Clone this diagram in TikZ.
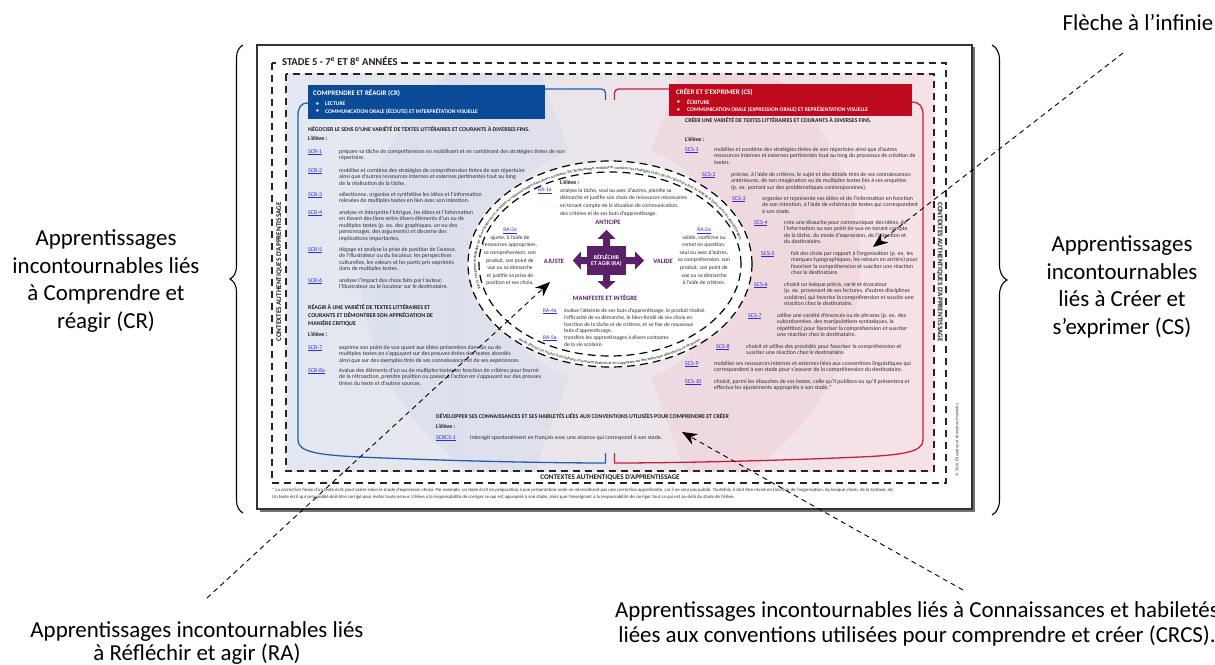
\documentclass[tikz,border=0pt]{standalone}
\usepackage{fontspec}
\setmainfont{Carlito}
\usetikzlibrary{calc,arrows.meta,decorations.pathreplacing,decorations.text,shapes.geometric}
\definecolor{txt}{HTML}{303030}
\definecolor{hd}{HTML}{1E1E1E}
\definecolor{lnk}{HTML}{2A2AE6}
\definecolor{crblue}{HTML}{0B4A96}
\definecolor{csred}{HTML}{BE0A1C}
\definecolor{frblue}{HTML}{2460AC}
\definecolor{frred}{HTML}{C8203A}
\definecolor{rapurple}{HTML}{5A2169}
\definecolor{bgblue}{HTML}{E2E8F1}
\definecolor{bgpink}{HTML}{F6E2E6}
\definecolor{ringblue}{HTML}{C9D6E8}
\definecolor{ringpink}{HTML}{EDC4CC}
\newcommand{\lnkc}[1]{\underline{#1}}
\begin{document}
\begin{tikzpicture}[x=1bp,y=1bp,
  body/.style={font=\fontsize{5.9}{6.5}\selectfont, text=txt, align=left, anchor=north west, inner sep=0pt},
  code/.style={font=\fontsize{5.9}{6.5}\selectfont, text=lnk, anchor=north west, inner sep=0pt},
  eleve/.style={font=\bfseries\fontsize{5.9}{6.5}\selectfont, text=hd, anchor=north west, inner sep=0pt},
  head/.style={font=\bfseries\fontsize{5.9}{8}\selectfont, text=hd, align=left, anchor=north west, inner sep=0pt},
  ell/.style={font=\fontsize{5.6}{7.6}\selectfont, text=txt, inner sep=0pt},
  ellcode/.style={font=\fontsize{5.6}{7.6}\selectfont, text=lnk, inner sep=0pt},
  purp/.style={font=\bfseries\fontsize{6.6}{8}\selectfont, text=rapurple, inner sep=0pt},
  boxt/.style={font=\bfseries\fontsize{7}{8}\selectfont, text=white, inner sep=0pt},
  boxb/.style={font=\bfseries\fontsize{5.6}{7}\selectfont, text=white, inner sep=0pt},
  vtxt/.style={font=\bfseries\fontsize{7.2}{8}\selectfont, text=hd, inner sep=0pt},
  foot/.style={font=\fontsize{4.85}{7}\selectfont, text=txt, align=left, anchor=north west, inner sep=0pt},
  big/.style={font=\fontsize{23}{27.5}\selectfont, align=center, text=black, inner sep=0pt},
  dfr/.style={draw=black!85, line width=1.1bp, dash pattern=on 7bp off 5bp},
  ringd/.style={draw=black, line width=1.2bp, dash pattern=on 8bp off 5bp},
  frb/.style={draw=frblue, line width=1.3bp},
  frr/.style={draw=frred, line width=1.3bp},
  leader/.style={draw=black, line width=0.9bp, dash pattern=on 5bp off 4bp, -{Stealth[length=15bp,width=12bp]}},
  bracestyle/.style={draw=black, line width=1.1bp, decorate},
]
\useasboundingbox (0,0) rectangle (1215,-665);

% page
\fill[black!55] (259.5,-47.5) rectangle (974.5,-511.5);
\draw[draw=black!80, line width=1.4bp, fill=white] (257,-45) rectangle (972,-509);

% inner background
\shade[left color=bgblue, right color=bgpink] (286,-74) rectangle (934,-471);
\coordinate (ctr) at (610,-264);
\begin{scope}
  \clip (286,-74) rectangle (934,-471);
  \fill[ringblue, opacity=0.32] ($(ctr)+(110:250)$) arc[start angle=110,end angle=250,radius=250] -- ($(ctr)+(250:120)$) arc[start angle=250,end angle=110,radius=120] -- cycle;
  \fill[ringpink, opacity=0.32] ($(ctr)+(-70:250)$) arc[start angle=-70,end angle=70,radius=250] -- ($(ctr)+(70:120)$) arc[start angle=70,end angle=-70,radius=120] -- cycle;
\end{scope}

% dashed frames
\draw[dfr] (286,-74) rectangle (934,-471);
\draw[dfr] (272,-63) rectangle (946,-483);
\node[anchor=west, fill=white, inner xsep=3bp, inner ysep=1.5bp, font=\bfseries\fontsize{10.6}{12}\selectfont, text=hd] (stade) at (279,-61.5) {STADE 5 - 7\textsuperscript{e} ET 8\textsuperscript{e} ANNÉES};
\node[vtxt, rotate=90] (ctxl) at (279,-272) {CONTEXTES AUTHENTIQUES D’APPRENTISSAGE};
\node[vtxt, rotate=-90] (ctxr) at (940,-272) {CONTEXTES AUTHENTIQUES D’APPRENTISSAGE};
\node[vtxt] (ctxb) at (610,-477.5) {CONTEXTES AUTHENTIQUES D’APPRENTISSAGE};
\node[font=\fontsize{4.2}{5}\selectfont, text=txt, rotate=90, inner sep=0] (copy) at (957,-440) {© 2016, Éducation et Formation Manitoba};

% blue / red frames
\draw[frb, rounded corners=4bp] (545,-89) -- (605.5,-89) -- (605.5,-100);
\draw[frb] (308,-103) .. controls (301,-103) and (298,-107) .. (298,-116) -- (298,-440) .. controls (298,-452) and (318,-455) .. (360,-457) .. controls (450,-461) and (550,-463) .. (605.5,-463) -- (605.5,-453);
\draw[frr, rounded corners=4bp] (669,-89) -- (614.5,-89) -- (614.5,-100);
\draw[frr] (912,-102) .. controls (919,-102) and (923,-106) .. (923,-115) -- (923,-440) .. controls (923,-452) and (903,-455) .. (860,-457) .. controls (770,-461) and (670,-463) .. (614.5,-463) -- (614.5,-453);

% header boxes
\node[fill=crblue, anchor=north west, minimum width=237bp, minimum height=34bp, inner sep=0] (crbox) at (308,-85) {};
\node[boxt, anchor=west] (crt) at (313,-93.5) {COMPRENDRE ET RÉAGIR (CR)};
\node[boxb, anchor=west] (crb1) at (316,-104) {\textbullet};
\node[boxb, anchor=west] (crl1) at (325,-104) {LECTURE};
\node[boxb, anchor=west] (crb2) at (316,-111.5) {\textbullet};
\node[boxb, anchor=west] (crl2) at (325,-111.5) {COMMUNICATION ORALE (ÉCOUTE) ET INTERPRÉTATION VISUELLE};

\node[fill=csred, anchor=north west, minimum width=243bp, minimum height=32bp, inner sep=0] (csbox) at (669,-84) {};
\node[boxt, anchor=west] (cst) at (676,-92) {CRÉER ET S’EXPRIMER (CS)};
\node[boxb, anchor=west] (csb1) at (677,-102.5) {\textbullet};
\node[boxb, anchor=west] (csl1) at (687,-102.5) {ÉCRITURE};
\node[boxb, anchor=west] (csb2) at (677,-110) {\textbullet};
\node[boxb, anchor=west] (csl2) at (687,-110) {COMMUNICATION ORALE (EXPRESSION ORALE) ET REPRÉSENTATION VISUELLE};

% CR column
\node[head] (h1) at (308,-126.2) {NÉGOCIER LE SENS D’UNE VARIÉTÉ DE TEXTES LITTÉRAIRES ET COURANTS À DIVERSES FINS.};
\node[eleve] (e1) at (308,-136.2) {L’élève :};
\node[code] (c1) at (308,-149) {\lnkc{SCR-1}};
\node[body] (t1) at (339,-149) {prépare sa tâche de compréhension en mobilisant et en combinant des stratégies tirées de son\\répertoire.};
\node[code] (c2) at (308,-168) {\lnkc{SCR-2}};
\node[body] (t2) at (339,-168) {mobilise et combine des stratégies de compréhension tirées de son répertoire\\ainsi que d’autres ressources internes et externes pertinentes tout au long\\de la réalisation de la tâche.};
\node[code] (c3) at (308,-192) {\lnkc{SCR-3}};
\node[body] (t3) at (339,-192) {sélectionne, organise et synthétise les idées et l’information\\relevées de multiples textes en lien avec son intention.};
\node[code] (c4) at (308,-210) {\lnkc{SCR-4}};
\node[body] (t4) at (339,-210) {analyse et interprète l’intrigue, les idées et l’information\\en tissant des liens entre divers éléments d’un ou de\\multiples textes (p. ex. des graphiques, un ou des\\personnages, des arguments) et discerne des\\implications importantes.};
\node[code] (c5) at (308,-247) {\lnkc{SCR-5}};
\node[body] (t5) at (339,-247) {dégage et analyse la prise de position de l’auteur,\\de l’illustrateur ou du locuteur, les perspectives\\culturelles, les valeurs et les partis pris exprimés\\dans de multiples textes.};
\node[code] (c6) at (308,-278) {\lnkc{SCR-6}};
\node[body] (t6) at (339,-278) {analyse l’impact des choix faits par l’auteur,\\l’illustrateur ou le locuteur sur le destinataire.};
\node[head] (h2) at (308,-304.2) {RÉAGIR À UNE VARIÉTÉ DE TEXTES LITTÉRAIRES ET\\COURANTS ET DÉMONTRER SON APPRÉCIATION DE\\MANIÈRE CRITIQUE};
\node[eleve] (e2) at (308,-332.2) {L’élève :};
\node[code] (c7) at (308,-345) {\lnkc{SCR-7}};
\node[body] (t7) at (339,-345) {exprime son point de vue quant aux idées présentées dans un ou de\\multiples textes en s’appuyant sur des preuves tirées des textes abordés\\ainsi que sur des exemples tirés de ses connaissances et de ses expériences.};
\node[code] (c8) at (308,-368) {\lnkc{SCR-8a}};
\node[body] (t8) at (339,-368) {évalue des éléments d’un ou de multiples textes en fonction de critères pour fournir\\de la rétroaction, prendre position ou passer à l’action en s’appuyant sur des preuves\\tirées du texte et d’autres sources.};

% CS column
\node[head] (h3) at (685,-117.5) {CRÉER UNE VARIÉTÉ DE TEXTES LITTÉRAIRES ET COURANTS À DIVERSES FINS.};
\node[eleve] (e3) at (685,-137.2) {L’élève :};
\node[code] (s1) at (685,-147) {\lnkc{SCS-1}};
\node[body] (u1) at (714,-147) {mobilise et combine des stratégies tirées de son répertoire ainsi que d’autres\\ressources internes et externes pertinentes tout au long du processus de création de\\textes.};
\node[code] (s2) at (702,-172) {\lnkc{SCS-2}};
\node[body] (u2) at (731,-172) {précise, à l’aide de critères, le sujet et des détails tirés de ses connaissances\\antérieures, de son imagination ou de multiples textes liés à ses enquêtes\\(p. ex. portant sur des problématiques contemporaines).};
\node[code] (s3) at (732,-196) {\lnkc{SCS-3}};
\node[body] (u3) at (762,-196) {organise et représente ses idées et de l’information en fonction\\de son intention, à l’aide de schémas de textes qui correspondent\\à son stade.};
\node[code] (s4) at (754,-220) {\lnkc{SCS-4}};
\node[body] (u4) at (784,-220) {crée une ébauche pour communiquer des idées, de\\l’information ou son point de vue en tenant compte\\de la tâche, du mode d’expression, de l’intention et\\du destinataire.};
\node[code] (s5) at (761,-251) {\lnkc{SCS-5}};
\node[body] (u5) at (791,-251) {fait des choix par rapport à l’organisation (p. ex. les\\marques typographiques, les retours en arrière) pour\\favoriser la compréhension et susciter une réaction\\chez le destinataire.};
\node[code] (s6) at (754,-282) {\lnkc{SCS-6}};
\node[body] (u6) at (784,-282) {choisit un lexique précis, varié et évocateur\\(p. ex. provenant de ses lectures, d’autres disciplines\\scolaires) qui favorise la compréhension et suscite une\\réaction chez le destinataire.};
\node[code] (s7) at (748,-313) {\lnkc{SCS-7}};
\node[body] (u7) at (777,-313) {utilise une variété d’énoncés ou de phrases (p. ex. des\\subordonnées, des manipulations syntaxiques, la\\répétition) pour favoriser la compréhension et susciter\\une réaction chez le destinataire.};
\node[code] (s8) at (716,-344) {\lnkc{SCS-8}};
\node[body] (u8) at (746,-344) {choisit et utilise des procédés pour favoriser la compréhension et\\susciter une réaction chez le destinataire.};
\node[code] (s9) at (685,-361) {\lnkc{SCS-9}};
\node[body] (u9) at (714,-361) {mobilise ses ressources internes et externes liées aux conventions linguistiques qui\\correspondent à son stade pour s’assurer de la compréhension du destinataire.};
\node[code] (s10) at (685,-379) {\lnkc{SCS-10}};
\node[body] (u10) at (714,-379) {choisit, parmi les ébauches de ses textes, celle qu’il publiera ou qu’il présentera et\\effectue les ajustements appropriés à son stade.*};

% CRCS
\node[head] (h4) at (436,-413.2) {DÉVELOPPER SES CONNAISSANCES ET SES HABILETÉS LIÉES AUX CONVENTIONS UTILISÉES POUR COMPRENDRE ET CRÉER};
\node[eleve] (e4) at (436,-424.2) {L’élève :};
\node[code] (k1) at (436,-435) {\lnkc{SCRCS-1}};
\node[body] (v1) at (470,-435) {interagit spontanément en français avec une aisance qui correspond à son stade.};

% footnote
\node[foot] (fn) at (272,-487.5) {* La correction finale d’un texte écrit peut varier selon le mode d’expression choisi. Par exemple, un texte écrit en préparation à une présentation orale ne nécessiterait pas une correction approfondie, car il ne sera pas publié. Toutefois, il doit être révisé en fonction de l’organisation, du lexique choisi, de la syntaxe, etc.\\Un texte écrit qui sera publié doit être corrigé pour éviter toute erreur. L’élève a la responsabilité de corriger ce qui est approprié à son stade, alors que l’enseignant a la responsabilité de corriger tout ce qui est au-delà du stade de l’élève.};

% central ellipse
\node[ellipse, fill=white, minimum width=284bp, minimum height=206bp, inner sep=0] (ring) at (ctr) {};
\draw[ringd] (ctr) ellipse [x radius=142, y radius=103];
\draw[ringd] (ctr) ellipse [x radius=131, y radius=92];
{\fontsize{3.9}{4}\selectfont\color{txt}
\path[decorate, decoration={text along path, text align=left, text={RA-3c s’exprime et dialogue sur divers textes pour consolider ses apprentissages dans divers contextes. RA-3b développe, mobilise et combine ses stratégies tirées de son répertoire tout au long de la tâche et de ses apprentissages.}}] ($(ctr)+(195:134 and 95)$) arc[start angle=195, end angle=-62, x radius=134, y radius=95];
\path[decorate, decoration={text along path, text align=center, text={RA-6a affirme son espace francophone en prenant position et en s’appuyant sur des enjeux qui affectent la vie de jeunes.}}] ($(ctr)+(200:139.5 and 100.5)$) arc[start angle=200, end angle=340, x radius=139.5, y radius=100.5];
}

\node[eleve] (e5) at (560,-180.4) {L’élève :};
\node[ellcode, anchor=north west] (r1c) at (538,-187.6) {\lnkc{RA-1a}};
\node[ell, anchor=north west, align=left] (r1t) at (560,-188.2) {analyse la tâche, seul ou avec d’autres, planifie sa\\démarche et justifie son choix de ressources nécessaires\\en tenant compte de la situation de communication,\\des critères et de ses buts d’apprentissage.};
\node[purp] (anti) at (608,-222) {ANTICIPE};
\node[purp] (ajus) at (554,-261) {AJUSTE};
\node[purp] (vali) at (663,-261) {VALIDE};
\node[purp] (mani) at (605,-298) {MANIFESTE ET INTÈGRE};
\node[ellcode] (r3c) at (510,-231) {\lnkc{RA-3a}};
\node[ell, anchor=north, align=center] (r3t) at (510,-235.2) {ajuste, à l’aide de\\ressources appropriées,\\sa compréhension, son\\produit, son point de\\vue ou sa démarche\\et justifie sa prise de\\position et ses choix.};
\node[ellcode] (r2c) at (704,-231) {\lnkc{RA-2a}};
\node[ell, anchor=north, align=center] (r2t) at (704,-235.2) {valide, confirme ou\\remet en question,\\seul ou avec d’autres,\\sa compréhension, son\\produit, son point de\\vue ou sa démarche\\à l’aide de critères.};
\node[ellcode, anchor=north west] (r4c) at (543,-308.4) {\lnkc{RA-4a}};
\node[ell, anchor=north west, align=left, font=\fontsize{5.6}{6.8}\selectfont] (r4t) at (564,-308.4) {évalue l’atteinte de ses buts d’apprentissage, le produit réalisé,\\l’efficacité de sa démarche, le bien-fondé de ses choix en\\fonction de la tâche et de critères, et se fixe de nouveaux\\buts d’apprentissage.};
\node[ellcode, anchor=north west] (r5c) at (543,-335.4) {\lnkc{RA-5a}};
\node[ell, anchor=north west, align=left, font=\fontsize{5.6}{6.8}\selectfont] (r5t) at (564,-335.4) {transfère les apprentissages à divers contextes\\de la vie scolaire.};

% central cross
\node[fill=rapurple, minimum width=39bp, minimum height=29bp, inner sep=0, font=\bfseries\fontsize{5.8}{7}\selectfont, text=white, align=center] (ra) at (606.5,-260.5) {RÉFLÉCHIR\\ET AGIR (RA)};
\fill[rapurple] ([xshift=-3.5bp]ra.north) -- ++(0,7) -- ++(-5.5,0) -- ++(9,9) -- ++(9,-9) -- ++(-5.5,0) -- ++(0,-7) -- cycle;
\fill[rapurple] ([xshift=-3.5bp]ra.south) -- ++(0,-6) -- ++(-5.5,0) -- ++(9,-8) -- ++(9,8) -- ++(-5.5,0) -- ++(0,6) -- cycle;
\fill[rapurple] ([yshift=3.5bp]ra.west) -- ++(-6,0) -- ++(0,5.5) -- ++(-8,-9) -- ++(8,-9) -- ++(0,5.5) -- ++(6,0) -- cycle;
\fill[rapurple] ([yshift=3.5bp]ra.east) -- ++(9,0) -- ++(0,5.5) -- ++(9,-9) -- ++(-9,-9) -- ++(0,5.5) -- ++(-9,0) -- cycle;

% outer labels
\node[big] (lfl) at (1138,-23) {Flèche à l’infinie};
\node[big] (lcr) at (106,-281) {Apprentissages\\incontournables liés\\à Comprendre et\\réagir (CR)};
\node[big] (lcs) at (1122,-287) {Apprentissages\\incontournables\\liés à Créer et\\s’exprimer (CS)};
\node[big, font=\fontsize{23}{24}\selectfont] (lra) at (197,-643) {Apprentissages incontournables liés\\à Réfléchir et agir (RA)};
\node[big, font=\fontsize{23}{24.5}\selectfont] (lcrcs) at (917,-624) {Apprentissages incontournables liés à Connaissances et habiletés\\liées aux conventions utilisées pour comprendre et créer (CRCS).};

% braces
\coordinate (lb1) at (243,-513);
\coordinate (lb2) at (243,-45);
\coordinate (rb1) at (992,-45);
\coordinate (rb2) at (992,-515);
\draw[bracestyle, decoration={brace, amplitude=13bp}] (lb1) -- (lb2);
\draw[bracestyle, decoration={brace, amplitude=15bp}] (rb1) -- (rb2);

% leaders
\coordinate (a1s) at (1123,-53);
\coordinate (a1e) at (873,-247);
\coordinate (a2s) at (207,-598);
\coordinate (a2e) at (550,-282);
\coordinate (a3s) at (963,-590);
\coordinate (a3e) at (682,-432);
\draw[leader] (a1s) -- (a1e);
\draw[leader] (a2s) -- (a2e);
\draw[leader] (a3s) -- (a3e);
\end{tikzpicture}
\end{document}
